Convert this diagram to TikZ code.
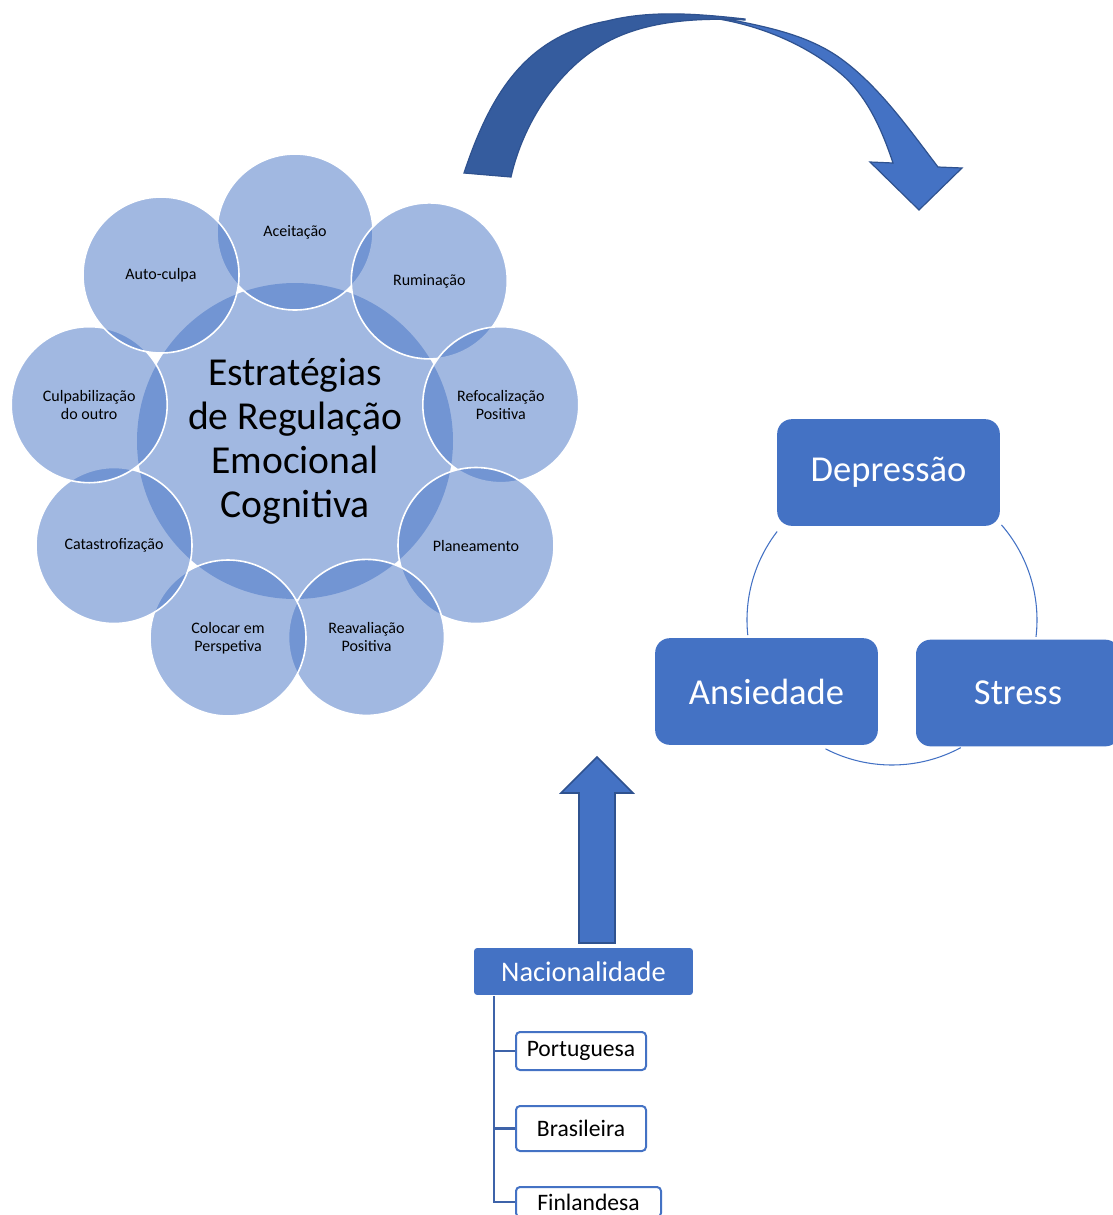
\documentclass[tikz,border=0pt]{standalone}
\usepackage{fontspec}
\setmainfont{Carlito}
\definecolor{obl}{HTML}{4472C4}
\definecolor{odark}{HTML}{355C9E}
\definecolor{oline}{HTML}{2F528F}
\definecolor{otree}{HTML}{3E63A9}
\tikzset{
  bigc/.style={circle, fill=obl, fill opacity=0.5, text opacity=1, minimum size=237pt, inner sep=0pt, align=center, font=\fontsize{29.7}{33}\selectfont},
  satc/.style={circle, fill=obl, fill opacity=0.5, text opacity=1, draw=white, line width=1.2pt, minimum size=117pt, inner sep=0pt, align=center, font=\fontsize{12}{13.5}\selectfont},
  cbox/.style={rectangle, rounded corners=11pt, fill=obl, text=white, minimum width=167pt, minimum height=80pt, inner sep=0pt, font=\fontsize{27.4}{30}\selectfont},
  nacbox/.style={rectangle, rounded corners=2pt, fill=obl, text=white, minimum width=164pt, minimum height=35pt, inner sep=0pt, font=\fontsize{21.3}{24}\selectfont},
  leafbox/.style={rectangle, rounded corners=3pt, draw=obl, line width=1.5pt, fill=white, minimum width=97.5pt, inner sep=0pt, font=\fontsize{17.7}{20}\selectfont},
  cycline/.style={draw=obl, line width=0.8pt},
  treeline/.style={draw=otree, line width=2.2pt},
  blockarrow/.style={fill=obl, draw=oline, line width=1.2pt, line join=miter},
}
\begin{document}
\begin{tikzpicture}[x=0.75pt,y=-0.75pt]
\useasboundingbox (0,0) rectangle (1113,1215);
\clip (0,0) rectangle (1113,1215);

% ---- radial diagram ----
\node[bigc] (centro) at (295,441) {Estratégias\\de Regulação\\Emocional\\Cognitiva};
\node[satc] (acei) at (295,232) {Aceitação};
\node[satc] (rumi) at (429.3,280.9) {Ruminação};
\node[satc] (refo) at (500.8,404.7) {Refocalização\\Positiva};
\node[satc] (plan) at (476,545.5) {Planeamento};
\node[satc] (reav) at (366.5,637.4) {Reavaliação\\Positiva};
\node[satc] (colo) at (228,638) {Colocar em\\Perspetiva};
\node[satc] (cata) at (114,545.5) {Catastrofização};
\node[satc] (culp) at (89.2,404.7) {Culpabilização\\do outro};
\node[satc] (auto) at (161,275) {Auto-culpa};

% ---- curved arrow ----
\filldraw[blockarrow, line width=0.9pt]
  (712,16) .. controls (756,25) and (803.3,31.9) .. (840,58)
  .. controls (879,86) and (909,129) .. (938,167)
  -- (962,168) -- (919,210) -- (870,162) -- (893,163)
  .. controls (882,130) and (867,95.4) .. (840,73)
  .. controls (804.7,43.6) and (757.5,24.4) .. (712,18)
  -- cycle;
\filldraw[fill=odark, draw=oline, line width=0.9pt]
  (464,173) .. controls (490,95) and (525,36) .. (607,21)
  .. controls (651.6,9.7) and (699.3,14) .. (745,19)
  -- (745,20)
  .. controls (699,17.7) and (647.5,20.2) .. (607,42)
  .. controls (558.5,68) and (523,123.3) .. (511,177)
  -- cycle;

% ---- cycle ----
\coordinate (cyc) at (892,620);
\draw[cycline] ([shift={(217.6:145)}]cyc) arc[start angle=217.6, end angle=174, radius=145];
\draw[cycline] ([shift={(-41:145)}]cyc) arc[start angle=-41, end angle=6.7, radius=145];
\draw[cycline] ([shift={(61.7:145)}]cyc) arc[start angle=61.7, end angle=117.3, radius=145];
\node[cbox] (dep) at (888.5,472.5) {Depressão};
\node[cbox] (ans) at (766.5,691.5) {Ansiedade};
\node[cbox, minimum width=153pt] (str) at (1018,693) {Stress};

% ---- up arrow ----
\filldraw[blockarrow] (579,943) -- (579,793) -- (561,793) -- (597,757) -- (633,793) -- (615,793) -- (615,943) -- cycle;

% ---- nationality tree ----
\node[nacbox] (nac) at (583.5,971.5) {Nacionalidade};
\node[leafbox, minimum height=28.5pt] (port) at (581,1051) {Portuguesa};
\node[leafbox, minimum height=33.75pt] (bras) at (581,1128.5) {Brasileira};
\node[leafbox, minimum height=22.5pt, minimum width=108.75pt] (finl) at (588.5,1202) {Finlandesa};
\coordinate (trunk) at (494,996);
\draw[treeline] (trunk) |- (port.west);
\draw[treeline] (trunk) |- (bras.west);
\draw[treeline] (trunk) |- (finl.west);
\end{tikzpicture}
\end{document}
